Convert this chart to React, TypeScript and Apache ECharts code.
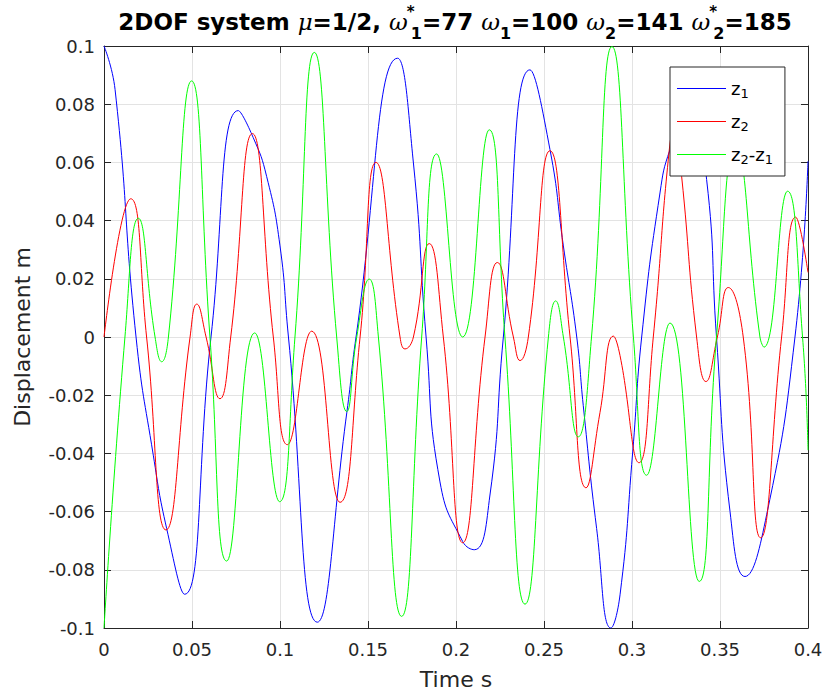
import React, { useEffect, useRef } from "react";
import * as echarts from "echarts";

// Time axis (s) and displacement axis (m)
const timeRange = [0, 0.4];
const timeStep = 0.05;
const dispRange = [-0.1, 0.1];
const dispStep = 0.02;

// z1: displacement of mass 1, [t, z]
const z1Points: [number, number][] = [
  [0, 0.1], [0.0063, 0.085], [0.0182, 0.0], [0.028, -0.0406], [0.0356, -0.0658],
  [0.0458, -0.0884], [0.0608, 0.0], [0.0763, 0.0778], [0.0848, 0.0685],
  [0.0924, 0.0552], [0.1, 0.0313], [0.1048, 0.0], [0.1212, -0.098],
  [0.138, -0.0258], [0.1432, 0.0], [0.1668, 0.0958], [0.1758, 0.0598],
  [0.183, 0.0], [0.1909, -0.0498], [0.2038, -0.0703], [0.2104, -0.0731],
  [0.2193, -0.0543], [0.2269, 0.0], [0.242, 0.0918], [0.2534, 0.0644],
  [0.261, 0.0313], [0.2686, 0.0], [0.2723, -0.0235], [0.2799, -0.0658],
  [0.288, -0.1], [0.2932, -0.0886], [0.3004, -0.0395], [0.3055, 0.0],
  [0.3159, 0.0495], [0.3216, 0.0644], [0.333, 0.08], [0.3424, 0.0541],
  [0.348, 0.0], [0.3557, -0.06], [0.3642, -0.0823], [0.3765, -0.0611],
  [0.3926, 0.0], [0.4, 0.0604],
];

// z2: displacement of mass 2, [t, z]
const z2Points: [number, number][] = [
  [0, 0], [0.0152, 0.0475], [0.0242, 0], [0.0352, -0.0663], [0.0489, 0],
  [0.0527, 0.0113], [0.058, 0], [0.0659, -0.0212], [0.072, 0],
  [0.0843, 0.0699], [0.0962, 0], [0.1042, -0.037], [0.118, 0.002],
  [0.1341, -0.0568], [0.1455, 0], [0.1545, 0.06], [0.1682, 0],
  [0.171, -0.0041], [0.1758, 0], [0.1848, 0.0321], [0.1928, 0],
  [0.2038, -0.0707], [0.2165, 0], [0.2235, 0.0256], [0.2326, 0],
  [0.2364, -0.0081], [0.2411, 0], [0.2534, 0.064], [0.2648, 0],
  [0.2739, -0.0518], [0.2818, -0.026], [0.2894, 0.0003], [0.2932, -0.0064],
  [0.304, -0.0432], [0.3121, 0], [0.3216, 0.0667], [0.3245, 0.071],
  [0.3282, 0.0552], [0.3367, 0], [0.342, -0.0153], [0.3485, 0],
  [0.3547, 0.017], [0.3632, 0], [0.3731, -0.069], [0.385, 0],
  [0.393, 0.0412], [0.4, 0.0222],
];

// z2 - z1: relative displacement, [t, z]
const relPoints: [number, number][] = [
  [0, -0.1], [0.0119, 0], [0.0195, 0.0408], [0.029, 0], [0.0328, -0.0085],
  [0.0366, 0], [0.0498, 0.088], [0.0602, 0], [0.0697, -0.077],
  [0.0856, 0.0014], [0.0998, -0.0566], [0.1085, 0], [0.1195, 0.0978],
  [0.1322, 0], [0.1379, -0.0256], [0.1436, 0], [0.1507, 0.0199],
  [0.1559, 0], [0.1691, -0.096], [0.1805, 0], [0.189, 0.0629],
  [0.2038, 0.0], [0.2189, 0.0712], [0.2278, 0], [0.2392, -0.0918],
  [0.2525, 0], [0.2566, 0.0124], [0.261, 0], [0.2695, -0.0343],
  [0.277, 0], [0.2886, 0.0998], [0.3008, 0], [0.3083, -0.0475],
  [0.3216, 0.0048], [0.3382, -0.084], [0.348, 0], [0.3588, 0.066],
  [0.3727, 0], [0.375, -0.0035], [0.3884, 0.0501], [0.3969, 0], [0.4, -0.0389],
];

const seriesNames = ["z1", "z2", "z2-z1"];
const seriesColors = ["#0000ff", "#ff0000", "#00ff00"];
const seriesData = [z1Points, z2Points, relPoints];

const FONT = "DejaVu Sans";
const INK = "#262626";

const fmtTick = (v: number) => {
  const r = Math.round(v * 100) / 100;
  return r === 0 ? "0" : String(r);
};

// "z2-z1" -> rich text with subscript digits
const legendLabel = (name: string) =>
  name
    .split("-")
    .map((part, i) => `{n|${i > 0 ? "-" : ""}z}{s|${part.slice(1)}}`)
    .join("");

const titleText =
  "{b|2DOF system }{i|μ}{b|=1/2, }{i|ω}{st|*}{sb|1}{b|=77 }{i|ω}{sb|1}{b|=100 }" +
  "{i|ω}{sb|2}{b|=141 }{i|ω}{st|*}{sb|2}{b|=185}";

export default function App() {
  const ref = useRef<HTMLDivElement>(null);

  useEffect(() => {
    if (!ref.current) return;
    const chart = echarts.init(ref.current, null, { renderer: "svg" });

    const axisCommon = {
      type: "value" as const,
      axisLine: { show: true, onZero: false, lineStyle: { color: INK, width: 1 } },
      axisTick: { show: true, inside: true, length: 7, lineStyle: { color: INK } },
    };

    chart.setOption({
      animation: false,
      backgroundColor: "#ffffff",
      grid: { left: 104, right: 18, top: 46, bottom: 65, containLabel: false },
      graphic: [
        {
          type: "text",
          x: 455,
          y: 5,
          style: {
            text: titleText,
            align: "center",
            verticalAlign: "top",
            rich: {
              b: { fontFamily: FONT, fontSize: 23, fontWeight: "bold", fill: "#000", lineHeight: 34 },
              i: { fontFamily: "DejaVu Serif", fontSize: 23, fontStyle: "italic", fill: "#000", lineHeight: 34 },
              sb: { fontFamily: FONT, fontSize: 16, fontWeight: "bold", fill: "#000", lineHeight: 34, padding: [22, 0, 0, 0] },
              st: { fontFamily: FONT, fontSize: 15, fontWeight: "bold", fill: "#000", lineHeight: 34, width: 0, padding: [0, 0, 20, 3] },
            },
          },
        },
      ],
      legend: {
        data: seriesNames.map((name) => ({ name, icon: "rect" })),
        orient: "vertical",
        left: 670,
        top: 67,
        padding: [10, 12, 10, 7],
        itemGap: 10,
        itemWidth: 49,
        itemHeight: 1,
        backgroundColor: "#ffffff",
        borderColor: INK,
        borderWidth: 1,
        borderRadius: 0,
        formatter: legendLabel,
        textStyle: {
          rich: {
            n: { fontFamily: FONT, fontSize: 18, color: "#000", lineHeight: 22 },
            s: { fontFamily: FONT, fontSize: 13, color: "#000", lineHeight: 22, padding: [10, 0, 0, 0] },
          },
        },
      },
      xAxis: [
        {
          ...axisCommon,
          position: "bottom",
          min: timeRange[0],
          max: timeRange[1],
          interval: timeStep,
          name: "Time s",
          nameLocation: "middle",
          nameGap: 40,
          nameTextStyle: { fontFamily: FONT, fontSize: 22, color: INK },
          axisLabel: { fontFamily: FONT, fontSize: 18, color: INK, margin: 12, formatter: fmtTick },
          splitLine: { show: true, lineStyle: { color: "#e3e3e3", width: 1 } },
        },
        {
          ...axisCommon,
          position: "top",
          min: timeRange[0],
          max: timeRange[1],
          interval: timeStep,
          axisLabel: { show: false },
          splitLine: { show: false },
        },
      ],
      yAxis: [
        {
          ...axisCommon,
          position: "left",
          min: dispRange[0],
          max: dispRange[1],
          interval: dispStep,
          name: "Displacement m",
          nameLocation: "middle",
          nameGap: 71,
          nameTextStyle: { fontFamily: FONT, fontSize: 22, color: INK },
          axisLabel: { fontFamily: FONT, fontSize: 18, color: INK, margin: 9, formatter: fmtTick },
          splitLine: { show: true, lineStyle: { color: "#e3e3e3", width: 1 } },
        },
        {
          ...axisCommon,
          position: "right",
          min: dispRange[0],
          max: dispRange[1],
          interval: dispStep,
          axisLabel: { show: false },
          splitLine: { show: false },
        },
      ],
      series: seriesNames.map((name, i) => ({
        name,
        type: "line",
        xAxisIndex: 0,
        yAxisIndex: 0,
        data: seriesData[i],
        smooth: true,
        symbol: "none",
        clip: true,
        color: seriesColors[i],
        lineStyle: { color: seriesColors[i], width: 1 },
      })),
    });

    return () => chart.dispose();
  }, []);

  return (
    <div
      ref={ref}
      style={{ position: "absolute", left: 0, top: 0, width: 826, height: 695, background: "#fff" }}
    />
  );
}
